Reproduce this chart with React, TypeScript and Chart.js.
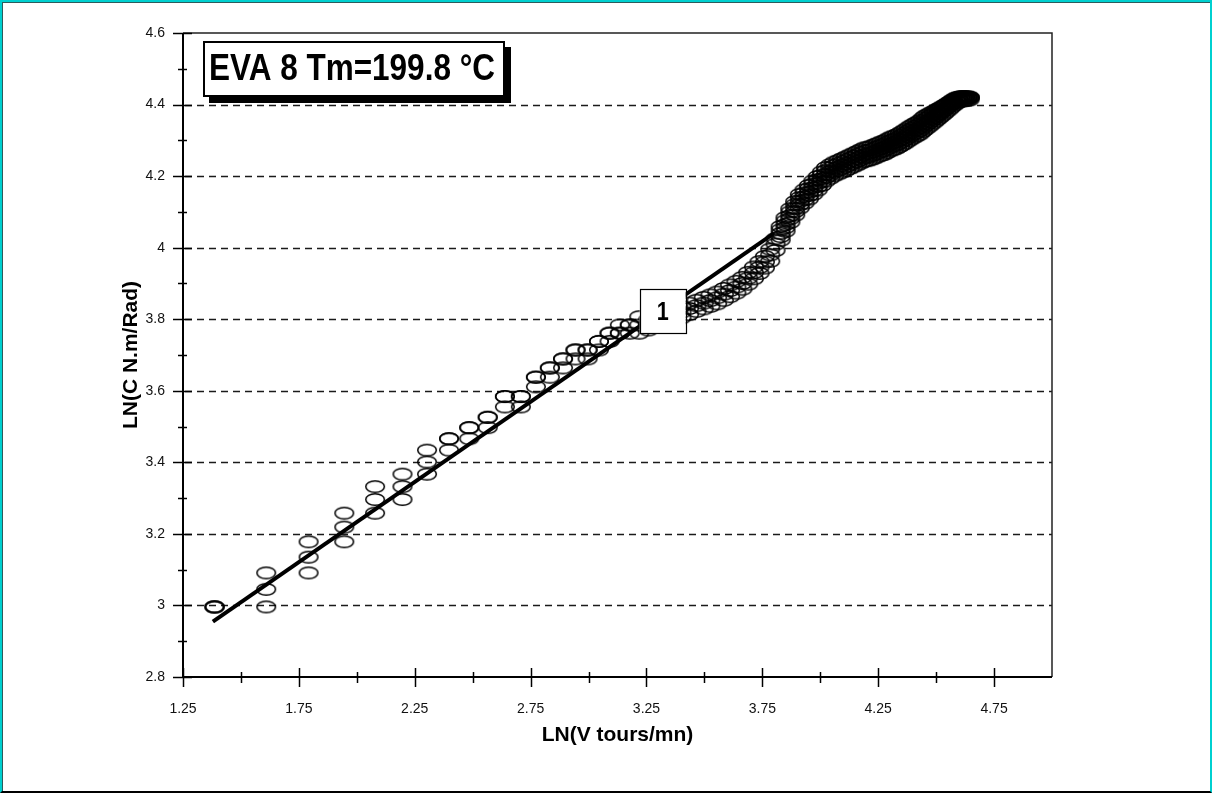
import React, { useEffect, useRef } from "react";
import { Chart, registerables } from "chart.js";

Chart.register(...registerables);

// ---- data ----
// x = LN(V tours/mn), three repeated readings of y = LN(C N.m/Rad) per speed
const lnV = [
  1.386, 1.609, 1.792, 1.946, 2.079, 2.197, 2.303, 2.398, 2.485, 2.565,
  2.639, 2.708, 2.773, 2.833, 2.890, 2.944, 2.996, 3.045, 3.091, 3.135,
  3.178, 3.219, 3.258, 3.296, 3.332, 3.367, 3.401, 3.434, 3.466, 3.497,
  3.526, 3.555, 3.584, 3.611, 3.638, 3.664, 3.689, 3.714, 3.738, 3.761,
  3.784, 3.807, 3.829, 3.850, 3.871, 3.892, 3.912, 3.932, 3.951, 3.970,
  3.989, 4.007, 4.025, 4.043, 4.060, 4.078, 4.094, 4.111, 4.127, 4.143,
  4.159, 4.174, 4.190, 4.205, 4.220, 4.234, 4.248, 4.263, 4.277, 4.290,
  4.304, 4.317, 4.331, 4.344, 4.357, 4.369, 4.382, 4.394, 4.407, 4.419,
  4.431, 4.443, 4.454, 4.466, 4.477, 4.489, 4.500, 4.511, 4.522, 4.533,
  4.543, 4.554, 4.564, 4.575, 4.585, 4.595, 4.605, 4.615, 4.625, 4.635,
  4.644,
];
const lnC1 = [
  2.996, 2.996, 3.091, 3.178, 3.258, 3.296, 3.367, 3.434, 3.466, 3.497,
  3.555, 3.555, 3.611, 3.638, 3.664, 3.689, 3.689, 3.714, 3.738, 3.761,
  3.761, 3.761, 3.770, 3.778, 3.788, 3.795, 3.804, 3.813, 3.822, 3.829,
  3.836, 3.843, 3.853, 3.863, 3.873, 3.884, 3.898, 3.913, 3.928, 3.943,
  3.962, 3.992, 4.021, 4.046, 4.071, 4.091, 4.111, 4.124, 4.136, 4.149,
  4.161, 4.174, 4.186, 4.194, 4.201, 4.206, 4.211, 4.216, 4.221, 4.226,
  4.231, 4.236, 4.241, 4.243, 4.246, 4.250, 4.254, 4.258, 4.261, 4.266,
  4.271, 4.274, 4.278, 4.283, 4.288, 4.293, 4.299, 4.304, 4.309, 4.313,
  4.318, 4.325, 4.331, 4.337, 4.343, 4.349, 4.355, 4.361, 4.367, 4.373,
  4.379, 4.385, 4.391, 4.397, 4.402, 4.406, 4.409, 4.410, 4.411, 4.412,
  4.413,
];
const lnC2 = [
  2.996, 3.045, 3.135, 3.219, 3.296, 3.332, 3.401, 3.466, 3.497, 3.526,
  3.584, 3.584, 3.638, 3.664, 3.689, 3.714, 3.714, 3.738, 3.761, 3.761,
  3.784, 3.784, 3.785, 3.795, 3.805, 3.812, 3.820, 3.830, 3.838, 3.845,
  3.852, 3.860, 3.870, 3.880, 3.890, 3.900, 3.915, 3.930, 3.945, 3.960,
  3.980, 4.010, 4.040, 4.065, 4.090, 4.110, 4.130, 4.143, 4.155, 4.168,
  4.180, 4.193, 4.205, 4.213, 4.220, 4.225, 4.230, 4.235, 4.240, 4.245,
  4.250, 4.255, 4.260, 4.262, 4.265, 4.269, 4.273, 4.277, 4.280, 4.285,
  4.290, 4.293, 4.297, 4.302, 4.307, 4.312, 4.318, 4.323, 4.328, 4.332,
  4.337, 4.344, 4.350, 4.355, 4.360, 4.365, 4.370, 4.375, 4.380, 4.385,
  4.390, 4.395, 4.400, 4.405, 4.410, 4.413, 4.416, 4.417, 4.418, 4.418,
  4.418,
];
const lnC3 = [
  2.996, 3.091, 3.178, 3.258, 3.332, 3.367, 3.434, 3.466, 3.497, 3.526,
  3.584, 3.584, 3.638, 3.664, 3.689, 3.714, 3.714, 3.738, 3.761, 3.784,
  3.784, 3.807, 3.800, 3.810, 3.820, 3.828, 3.836, 3.845, 3.853, 3.861,
  3.868, 3.876, 3.886, 3.896, 3.906, 3.917, 3.931, 3.946, 3.961, 3.976,
  3.996, 4.025, 4.059, 4.084, 4.109, 4.129, 4.149, 4.162, 4.174, 4.187,
  4.199, 4.212, 4.224, 4.232, 4.239, 4.244, 4.249, 4.254, 4.259, 4.264,
  4.269, 4.274, 4.279, 4.281, 4.284, 4.288, 4.292, 4.296, 4.299, 4.304,
  4.309, 4.312, 4.316, 4.321, 4.326, 4.331, 4.337, 4.342, 4.347, 4.351,
  4.356, 4.363, 4.369, 4.373, 4.377, 4.381, 4.385, 4.389, 4.393, 4.397,
  4.401, 4.405, 4.409, 4.413, 4.418, 4.420, 4.422, 4.422, 4.422, 4.421,
  4.420,
];

// extra readings in the dense high-speed band
const lnVHigh = [
  3.829, 3.850, 3.871, 3.892, 3.912, 3.932, 3.951, 3.970, 3.989, 4.007,
  4.025, 4.043, 4.060, 4.078, 4.094, 4.111, 4.127, 4.143, 4.159, 4.174,
  4.190, 4.205, 4.220, 4.234, 4.248, 4.263, 4.277, 4.290, 4.304, 4.317,
  4.331, 4.344, 4.357, 4.369, 4.382, 4.394, 4.407, 4.419, 4.431, 4.443,
  4.454, 4.466, 4.477, 4.489, 4.500, 4.511, 4.522, 4.533, 4.543, 4.554,
  4.564, 4.575, 4.585, 4.595, 4.605, 4.615, 4.625, 4.635, 4.644,
];
const lnC4 = [
  4.031, 4.056, 4.081, 4.101, 4.121, 4.134, 4.146, 4.159, 4.171, 4.184,
  4.196, 4.204, 4.211, 4.216, 4.221, 4.226, 4.231, 4.236, 4.241, 4.246,
  4.251, 4.253, 4.256, 4.260, 4.264, 4.268, 4.271, 4.276, 4.281, 4.284,
  4.288, 4.293, 4.298, 4.303, 4.309, 4.314, 4.319, 4.323, 4.328, 4.335,
  4.341, 4.347, 4.353, 4.359, 4.365, 4.371, 4.377, 4.383, 4.389, 4.395,
  4.401, 4.407, 4.412, 4.416, 4.419, 4.420, 4.421, 4.421, 4.421,
];
const lnC5 = [
  4.050, 4.075, 4.100, 4.120, 4.140, 4.153, 4.165, 4.178, 4.190, 4.203,
  4.215, 4.223, 4.230, 4.235, 4.240, 4.245, 4.250, 4.255, 4.260, 4.265,
  4.270, 4.272, 4.275, 4.279, 4.283, 4.287, 4.290, 4.295, 4.300, 4.303,
  4.307, 4.312, 4.317, 4.322, 4.328, 4.333, 4.338, 4.342, 4.347, 4.354,
  4.360, 4.365, 4.370, 4.375, 4.380, 4.385, 4.390, 4.395, 4.400, 4.405,
  4.410, 4.415, 4.418, 4.420, 4.421, 4.421, 4.421, 4.420, 4.420,
];

// fitted line "1"
const fitX = [1.379, 3.8];
const fitY = [2.955, 4.04];
const fitLabelPos = [3.32, 3.822];
const fitLabel = "1";

const xTickValues = [1.25, 1.75, 2.25, 2.75, 3.25, 3.75, 4.25, 4.75];
const xMinorTicks = [1.5, 2.0, 2.5, 3.0, 3.5, 4.0, 4.5];
const yTickValues = [2.8, 3.0, 3.2, 3.4, 3.6, 3.8, 4.0, 4.2, 4.4, 4.6];
const yMinorTicks = [2.9, 3.1, 3.3, 3.5, 3.7, 3.9, 4.1, 4.3, 4.5];
const yGridValues = [3.0, 3.2, 3.4, 3.6, 3.8, 4.0, 4.2, 4.4];

const chartTitle = "EVA 8 Tm=199.8 °C";
const xTitle = "LN(V tours/mn)";
const yTitle = "LN(C N.m/Rad)";

const FONT = "'Liberation Sans', Arial, sans-serif";

function makeEllipse(): HTMLCanvasElement {
  const c = document.createElement("canvas");
  c.width = 22;
  c.height = 15;
  const g = c.getContext("2d")!;
  g.strokeStyle = "#000";
  g.lineWidth = 1.5;
  g.beginPath();
  g.ellipse(11, 7.5, 9.3, 5.8, 0, 0, Math.PI * 2);
  g.stroke();
  return c;
}

function fitText(ctx: CanvasRenderingContext2D, text: string, cx: number, cy: number, font: string, width: number) {
  ctx.save();
  ctx.font = font;
  ctx.textAlign = "center";
  ctx.textBaseline = "middle";
  const w = ctx.measureText(text).width;
  const s = width / w;
  ctx.translate(cx, cy);
  ctx.scale(s, 1);
  ctx.fillStyle = "#000";
  ctx.fillText(text, 0, 0);
  ctx.restore();
}

const decorPlugin = {
  id: "decor",
  beforeDatasetsDraw(chart: any) {
    const { ctx, chartArea: a, scales } = chart;
    const ys = scales.y;
    ctx.save();
    ctx.strokeStyle = "#1a1a1a";
    ctx.lineWidth = 1.5;
    ctx.setLineDash([7, 5]);
    for (const v of yGridValues) {
      const py = Math.round(ys.getPixelForValue(v)) + 0.5;
      ctx.beginPath();
      ctx.moveTo(a.left + 2, py);
      ctx.lineTo(a.right, py);
      ctx.stroke();
    }
    ctx.setLineDash([]);
    ctx.strokeStyle = "#222";
    ctx.lineWidth = 1.5;
    ctx.beginPath();
    ctx.moveTo(a.left, a.top);
    ctx.lineTo(a.right, a.top);
    ctx.lineTo(a.right, a.bottom);
    ctx.stroke();
    ctx.strokeStyle = "#000";
    ctx.lineWidth = 2;
    ctx.beginPath();
    ctx.moveTo(a.left, a.top);
    ctx.lineTo(a.left, a.bottom);
    ctx.lineTo(a.right, a.bottom);
    ctx.stroke();
    ctx.restore();
  },
  afterDatasetsDraw(chart: any) {
    const { ctx, chartArea: a, scales } = chart;
    const xs = scales.x;
    const ys = scales.y;
    ctx.save();
    ctx.strokeStyle = "#000";
    ctx.lineWidth = 1.5;
    const tick = (x1: number, y1: number, x2: number, y2: number) => {
      ctx.beginPath();
      ctx.moveTo(x1, y1);
      ctx.lineTo(x2, y2);
      ctx.stroke();
    };
    for (const v of xTickValues) {
      const px = Math.round(xs.getPixelForValue(v)) + 0.5;
      tick(px, a.bottom - 9, px, a.bottom + 10);
    }
    for (const v of xMinorTicks) {
      const px = Math.round(xs.getPixelForValue(v)) + 0.5;
      tick(px, a.bottom - 5, px, a.bottom + 6);
    }
    for (const v of yTickValues) {
      const py = Math.round(ys.getPixelForValue(v)) + 0.5;
      tick(a.left - 10, py, a.left + 9, py);
    }
    for (const v of yMinorTicks) {
      const py = Math.round(ys.getPixelForValue(v)) + 0.5;
      tick(a.left - 5, py, a.left + 4, py);
    }

    // label box "1"
    const lx = xs.getPixelForValue(fitLabelPos[0]);
    const ly = ys.getPixelForValue(fitLabelPos[1]);
    const lw = 46, lh = 44;
    ctx.fillStyle = "#fff";
    ctx.fillRect(lx - lw / 2, ly - lh / 2, lw, lh);
    ctx.strokeStyle = "#000";
    ctx.lineWidth = 1.2;
    ctx.strokeRect(Math.round(lx - lw / 2) + 0.5, Math.round(ly - lh / 2) + 0.5, lw, lh);
    fitText(ctx, fitLabel, lx, ly + 1, `bold 26px ${FONT}`, 12);

    // title box with shadow
    const bx = a.left + 20, by = a.top + 8, bw = 302, bh = 56;
    ctx.fillStyle = "#000";
    ctx.fillRect(bx + 6, by + 6, bw, bh);
    ctx.fillStyle = "#fff";
    ctx.fillRect(bx, by, bw, bh);
    ctx.strokeStyle = "#000";
    ctx.lineWidth = 2;
    ctx.strokeRect(bx + 1, by + 1, bw - 2, bh - 2);
    fitText(ctx, chartTitle, bx + bw / 2 - 2, by + bh / 2 + 1, `bold 36px ${FONT}`, 286);

    // axis titles
    ctx.fillStyle = "#000";
    ctx.font = `bold 21px ${FONT}`;
    ctx.textAlign = "center";
    ctx.textBaseline = "middle";
    ctx.fillText(xTitle, (a.left + a.right) / 2, 735);
    ctx.save();
    ctx.translate(131, (a.top + a.bottom) / 2);
    ctx.rotate(-Math.PI / 2);
    ctx.fillText(yTitle, 0, 0);
    ctx.restore();
    ctx.restore();
  },
};

function fmt(v: number): string {
  return String(Number(v.toFixed(2)));
}

export default function App() {
  const ref = useRef<HTMLCanvasElement | null>(null);
  useEffect(() => {
    const canvas = ref.current!;
    const ell = makeEllipse();
    const pointDs = (xs: number[], arr: number[]) => ({
      type: "scatter" as const,
      data: xs.map((x, i) => ({ x, y: arr[i] })),
      pointStyle: ell,
      pointRadius: 9,
      showLine: false,
      borderColor: "#000",
      backgroundColor: "rgba(0,0,0,0)",
    });
    const chart = new Chart(canvas, {
      type: "scatter",
      data: {
        datasets: [
          {
            type: "line",
            data: fitX.map((x, i) => ({ x, y: fitY[i] })),
            borderColor: "#000",
            borderWidth: 4,
            pointRadius: 0,
            fill: false,
            tension: 0,
          } as any,
          pointDs(lnV, lnC1),
          pointDs(lnV, lnC2),
          pointDs(lnV, lnC3),
          pointDs(lnVHigh, lnC4),
          pointDs(lnVHigh, lnC5),
        ],
      },
      options: {
        animation: false,
        responsive: false,
        devicePixelRatio: 1,
        layout: { padding: { top: 33, right: 160, left: 0, bottom: 0 } },
        plugins: { legend: { display: false }, tooltip: { enabled: false }, title: { display: false } },
        scales: {
          x: {
            type: "linear",
            min: 1.25,
            max: 5.0,
            afterBuildTicks: (s: any) => {
              s.ticks = xTickValues.map((v) => ({ value: v }));
            },
            afterFit: (s: any) => {
              s.height = 116;
            },
            grid: { display: false, drawTicks: false },
            border: { display: false },
            ticks: {
              autoSkip: false,
              maxRotation: 0,
              padding: 24,
              color: "#111",
              font: { family: FONT, size: 14 },
              callback: (v: any) => fmt(Number(v)),
            },
          },
          y: {
            type: "linear",
            min: 2.8,
            max: 4.6,
            afterBuildTicks: (s: any) => {
              s.ticks = yTickValues.map((v) => ({ value: v }));
            },
            afterFit: (s: any) => {
              s.width = 183;
            },
            grid: { display: false, drawTicks: false },
            border: { display: false },
            ticks: {
              autoSkip: false,
              padding: 18,
              color: "#111",
              font: { family: FONT, size: 14 },
              callback: (v: any) => fmt(Number(v)),
            },
          },
        },
      },
      plugins: [decorPlugin],
    } as any);
    return () => chart.destroy();
  }, []);

  return (
    <div style={{ position: "fixed", left: 0, top: 0, width: 1212, height: 793, background: "#fff" }}>
      <canvas ref={ref} width={1212} height={793} style={{ display: "block", width: 1212, height: 793 }} />
      <div
        style={{
          position: "absolute",
          left: 0,
          top: 0,
          width: 1212,
          height: 793,
          boxSizing: "border-box",
          borderTop: "2px solid #00d0d0",
          borderLeft: "2px solid #00d0d0",
          borderRight: "2px solid #00d0d0",
          borderBottom: "2px solid #000",
          boxShadow: "inset 1px 1px 0 #2c5c5c",
          pointerEvents: "none",
        }}
      />
    </div>
  );
}
